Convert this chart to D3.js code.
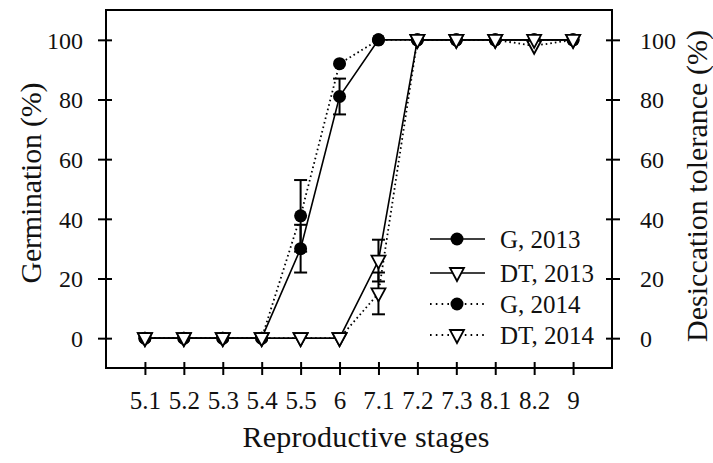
<!DOCTYPE html>
<html>
<head>
<meta charset="utf-8">
<script src="https://cdn.jsdelivr.net/npm/d3@7"></script>
<style>
  html, body { margin: 0; padding: 0; background: #fff; }
  svg { display: block; }
  text { font-family: "Liberation Serif", "Times New Roman", serif; fill: #111; }
</style>
</head>
<body>
<svg id="chart" width="713" height="463"></svg>
<script>
// ---- Data ----
const stages = ["5.1","5.2","5.3","5.4","5.5","6","7.1","7.2","7.3","8.1","8.2","9"];
const g2013     = [0,0,0,0,30,81,100,100,100,100,100,100];
const g2013Err  = [0,0,0,0, 8, 6,  0,  0,  0,  0,  0,  0];
const dt2013    = [0,0,0,0, 0, 0, 26,100,100,100,100,100];
const dt2013Err = [0,0,0,0, 0, 0,  7,  0,  0,  0,  0,  0];
const g2014     = [0,0,0,0,41,92,100,100,100,100,100,100];
const g2014Err  = [0,0,0,0,12, 0,  0,  0,  0,  0,  0,  0];
const dt2014    = [0,0,0,0, 0, 0, 15,100,100,100, 98,100];
const dt2014Err = [0,0,0,0, 0, 0,  7,  0,  0,  0,  0,  0];
const yTicks = [0,20,40,60,80,100];
const seriesNames = ["G, 2013","DT, 2013","G, 2014","DT, 2014"];

// ---- Layout ----
const svg = d3.select("#chart");
const pLeft = 106, pRight = 612, pTop = 10, pBottom = 368;

const x = d3.scalePoint().domain(stages).range([pLeft, pRight]).padding(1);
const y = d3.scaleLinear().domain([-10, 110]).range([pBottom, pTop]);

const series = [
  {name: seriesNames[0], vals: g2013,  err: g2013Err,  marker: "circle",   dash: null},
  {name: seriesNames[1], vals: dt2013, err: dt2013Err, marker: "triangle", dash: null},
  {name: seriesNames[2], vals: g2014,  err: g2014Err,  marker: "circle",   dash: "1.6,3"},
  {name: seriesNames[3], vals: dt2014, err: dt2014Err, marker: "triangle", dash: "1.6,3"}
];

// frame
svg.append("rect").attr("x", pLeft).attr("y", pTop)
  .attr("width", pRight - pLeft).attr("height", pBottom - pTop)
  .attr("fill", "none").attr("stroke", "#000").attr("stroke-width", 2);

// axes
const tickFont = "24px";
const yL = svg.append("g").attr("transform", `translate(${pLeft},0)`)
  .call(d3.axisLeft(y).tickValues(yTicks).tickSizeInner(8).tickSizeOuter(0).tickPadding(14));
yL.select(".domain").remove();
yL.selectAll(".tick line").attr("x2", 6).attr("x1", -8).attr("stroke", "#000").attr("stroke-width", 2);
yL.selectAll(".tick text").attr("font-size", tickFont).attr("font-family", "Liberation Serif").attr("x", -23).attr("dy", "0.34em");

const yR = svg.append("g").attr("transform", `translate(${pRight},0)`)
  .call(d3.axisRight(y).tickValues(yTicks).tickSizeInner(8).tickSizeOuter(0).tickPadding(14));
yR.select(".domain").remove();
yR.selectAll(".tick line").attr("x1", -6).attr("x2", 8).attr("stroke", "#000").attr("stroke-width", 2);
yR.selectAll(".tick text").attr("font-size", tickFont).attr("font-family", "Liberation Serif").attr("x", 28).attr("dy", "0.34em");

const xB = svg.append("g").attr("transform", `translate(0,${pBottom})`)
  .call(d3.axisBottom(x).tickSizeInner(7).tickSizeOuter(0).tickPadding(10));
xB.select(".domain").remove();
xB.selectAll(".tick line").attr("y1", -6).attr("y2", 7).attr("stroke", "#000").attr("stroke-width", 2);
xB.selectAll(".tick text").attr("font-size", "25px").attr("font-family", "Liberation Serif").attr("y", 41).attr("dy", "0");

// titles
svg.append("text").attr("x", 366).attr("y", 447)
  .attr("text-anchor", "middle").attr("font-size", "30px")
  .attr("textLength", 247).attr("lengthAdjust", "spacing").text("Reproductive stages");
svg.append("text").attr("transform", "translate(41,183) rotate(-90)")
  .attr("text-anchor", "middle").attr("font-size", "30px")
  .attr("textLength", 201).attr("lengthAdjust", "spacing").text("Germination (%)");
svg.append("text").attr("transform", "translate(707,186) rotate(-90)")
  .attr("text-anchor", "middle").attr("font-size", "30px")
  .attr("textLength", 312).attr("lengthAdjust", "spacing").text("Desiccation tolerance (%)");

// lines
const line = d3.line().x((d, i) => x(stages[i])).y(d => y(d));
series.forEach(s => {
  svg.append("path").datum(s.vals).attr("d", line)
    .attr("fill", "none").attr("stroke", "#000").attr("stroke-width", s.dash ? 1.8 : 1.6)
    .attr("stroke-dasharray", s.dash);
});

// error bars
const capW = 6.5;
series.forEach(s => {
  const g = svg.append("g");
  s.vals.forEach((v, i) => {
    const e = s.err[i];
    if (!e) return;
    const cx = x(stages[i]);
    g.append("line").attr("x1", cx).attr("x2", cx).attr("y1", y(v - e)).attr("y2", y(v + e))
      .attr("stroke", "#000").attr("stroke-width", 2);
    [v - e, v + e].forEach(t => g.append("line")
      .attr("x1", cx - capW).attr("x2", cx + capW).attr("y1", y(t)).attr("y2", y(t))
      .attr("stroke", "#000").attr("stroke-width", 2));
  });
});

// markers
const triPath = (cx, cy) => `M${cx - 7},${cy - 5} L${cx + 7},${cy - 5} L${cx},${cy + 8} Z`;
function drawMarker(sel, type, cx, cy) {
  if (type === "circle") {
    sel.append("circle").attr("cx", cx).attr("cy", cy).attr("r", 6.5).attr("fill", "#000");
  } else {
    sel.append("path").attr("d", triPath(cx, cy)).attr("fill", "#fff")
      .attr("stroke", "#000").attr("stroke-width", 1.8);
  }
}
[series[2], series[0], series[3], series[1]].forEach(s => {
  const g = svg.append("g");
  s.vals.forEach((v, i) => drawMarker(g, s.marker, x(stages[i]), y(v)));
});

// legend
const legY = [239, 273, 304, 335];
series.forEach((s, k) => {
  const g = svg.append("g");
  const yy = legY[k];
  g.append("line").attr("x1", 430).attr("x2", 485).attr("y1", yy).attr("y2", yy)
    .attr("stroke", "#000").attr("stroke-width", s.dash ? 1.8 : 1.6)
    .attr("stroke-dasharray", s.dash ? "1.6,4.2" : null);
  drawMarker(g, s.marker, 457, yy);
  g.append("text").attr("x", 500).attr("y", yy).attr("dy", "0.34em")
    .attr("font-size", "25px").text(s.name);
});
</script>
</body>
</html>
